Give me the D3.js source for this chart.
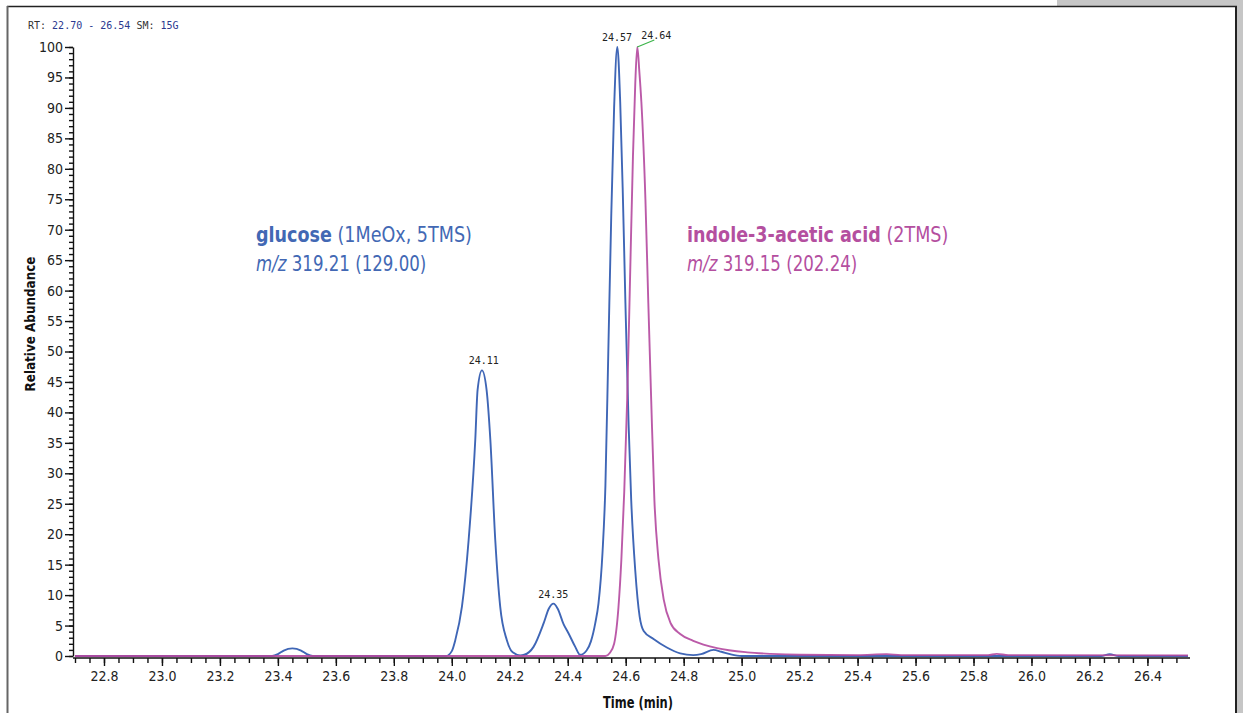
<!DOCTYPE html>
<html>
<head>
<meta charset="utf-8">
<script src="https://cdn.jsdelivr.net/npm/d3@7"></script>
<style>
  body { margin: 0; background: #fff; }
  svg { display: block; }
  .narrow { font-family: "Liberation Sans Narrow", "Arial Narrow", "DejaVu Sans Condensed", "Roboto Condensed", sans-serif; }
  .mono { font-family: "DejaVu Sans Mono", "Liberation Mono", monospace; }
</style>
</head>
<body>
<svg id="chart" width="1243" height="713"></svg>
<script>
// retention time range (min) and y range (%)
const rtRange = [22.70, 26.54];
const yRange = [0, 100];

// glucose (1MeOx, 5TMS) trace, [time, relative abundance]
const glucose = [
  [22.70, 0], [23.38, 0], [23.40, 0.3], [23.42, 0.9], [23.45, 1.25], [23.48, 0.9], [23.50, 0.3], [23.52, 0],
  [23.98, 0], [24.00, 0.8], [24.012, 2.6], [24.035, 8.1], [24.058, 19], [24.081, 35.5], [24.089, 43.7],
  [24.104, 46.9], [24.12, 43.7], [24.133, 35.5], [24.15, 19], [24.167, 8.1], [24.19, 2.6], [24.21, 0.6],
  [24.236, 0.1], [24.25, 0.2], [24.282, 1.5], [24.317, 5.4], [24.335, 7.8], [24.351, 8.6], [24.365, 7.8],
  [24.386, 5.2], [24.403, 3.7], [24.426, 1.5], [24.443, 0.2], [24.465, 0.9], [24.48, 2.4], [24.495, 5.4],
  [24.506, 8.6], [24.52, 17], [24.53, 28], [24.54, 50], [24.55, 72], [24.56, 90], [24.571, 100],
  [24.581, 91], [24.59, 76], [24.599, 58], [24.61, 38], [24.619, 25.6], [24.633, 14], [24.648, 6.5],
  [24.662, 4.1], [24.696, 2.8], [24.742, 1.4], [24.788, 0.44], [24.833, 0.15], [24.86, 0.3], [24.903, 1.0],
  [24.93, 0.7], [24.96, 0.3], [25.0, 0], [26.24, 0], [26.27, 0.3], [26.30, 0], [26.54, 0]
];

// indole-3-acetic acid (2TMS) trace
const iaa = [
  [22.70, 0], [24.53, 0], [24.545, 0.5], [24.56, 2], [24.575, 8], [24.585, 15.8], [24.595, 27],
  [24.605, 42], [24.615, 62], [24.625, 82], [24.633, 94], [24.64, 100], [24.647, 96], [24.654, 91],
  [24.668, 75], [24.678, 58], [24.688, 42], [24.699, 25.6], [24.713, 15.9], [24.731, 9.3], [24.754, 5.5],
  [24.788, 3.6], [24.833, 2.5], [24.915, 1.3], [25.02, 0.6], [25.1, 0.35], [25.2, 0.2], [25.4, 0.15],
  [25.5, 0.3], [25.55, 0.15], [25.85, 0.15], [25.88, 0.35], [25.92, 0.15], [26.54, 0.1]
];

// labelled peaks
const peaks = [
  { t: 24.11, v: 46.9, label: "24.11" },
  { t: 24.35, v: 8.6, label: "24.35" },
  { t: 24.57, v: 100, label: "24.57" },
  { t: 24.64, v: 100, label: "24.64", leader: true }
];

// ticks
const xMajor = d3.range(22.8, 26.41, 0.2).map(d => +d.toFixed(2));
const xMinor = d3.range(22.70, 26.541, 0.05).map(d => +d.toFixed(2));
const yMajor = d3.range(0, 101, 5);
const yMinor = d3.range(0, 101, 1);

const blue = "#3f66b6", magenta = "#b4489f";

const svg = d3.select("#chart");

// page frame
svg.append("rect").attr("x", 1057).attr("y", 0).attr("width", 186).attr("height", 6).attr("fill", "#c6c6c6");
svg.append("rect").attr("x", 1237).attr("y", 0).attr("width", 6).attr("height", 713).attr("fill", "#c6c6c6");
svg.append("line").attr("x1", 7).attr("x2", 1237).attr("y1", 6.5).attr("y2", 6.5)
  .attr("stroke", "#222").attr("stroke-width", 1.5);
svg.append("line").attr("x1", 1236).attr("x2", 1236).attr("y1", 6).attr("y2", 713)
  .attr("stroke", "#222").attr("stroke-width", 2);
svg.append("line").attr("x1", 7.5).attr("x2", 7.5).attr("y1", 6).attr("y2", 713)
  .attr("stroke", "#666").attr("stroke-width", 2);

const x = d3.scaleLinear().domain(rtRange).range([75, 1188]);
const y = d3.scaleLinear().domain(yRange).range([656, 47]);

// header
const hdr = svg.append("text").attr("class", "mono").attr("x", 28).attr("y", 29)
  .style("font-size", "10px");
hdr.append("tspan").attr("fill", "#333").text("RT: ");
hdr.append("tspan").attr("fill", "#2b3990").text(rtRange[0].toFixed(2) + " - " + rtRange[1].toFixed(2));
hdr.append("tspan").attr("fill", "#333").text("  SM: ");
hdr.append("tspan").attr("fill", "#2b3990").text("15G");

// y axis
const yAxisG = svg.append("g").attr("transform", "translate(73,0)");
yAxisG.append("g").call(d3.axisLeft(y).tickValues(yMinor).tickSize(4).tickFormat(""))
  .call(g => g.select(".domain").remove());
yAxisG.append("g").attr("class", "narrow")
  .call(d3.axisLeft(y).tickValues(yMajor).tickSize(8).tickPadding(2).tickSizeOuter(0))
  .call(g => g.selectAll("text").style("font-size", "14px").attr("fill", "#222"));
yAxisG.selectAll("line, path").attr("stroke", "#111").attr("stroke-width", 1.4);

// x axis
const xAxisG = svg.append("g").attr("transform", "translate(0,658)");
xAxisG.append("g").call(d3.axisBottom(x).tickValues(xMinor).tickSize(5).tickFormat("").tickSizeOuter(0))
  .call(g => g.select(".domain").attr("d", "M73,0H1190"));
xAxisG.append("g").attr("class", "narrow")
  .call(d3.axisBottom(x).tickValues(xMajor).tickSize(8).tickPadding(5).tickFormat(d3.format(".1f")))
  .call(g => g.select(".domain").remove())
  .call(g => g.selectAll("text").style("font-size", "14px").attr("fill", "#222"));
xAxisG.selectAll("line, path").attr("stroke", "#111").attr("stroke-width", 1.4);

// axis titles
svg.append("text").attr("class", "narrow")
  .attr("transform", "translate(35,324) rotate(-90) scale(0.92,1)")
  .attr("text-anchor", "middle").style("font-size", "14.5px").style("font-weight", "bold")
  .attr("fill", "#111").text("Relative Abundance");
svg.append("text").attr("class", "narrow")
  .attr("transform", "translate(638,708) scale(0.85,1)")
  .attr("text-anchor", "middle").style("font-size", "15px").style("font-weight", "bold")
  .attr("fill", "#111").text("Time (min)");

// traces
const line = d3.line().x(d => x(d[0])).y(d => y(d[1])).curve(d3.curveMonotoneX);
svg.append("path").datum(glucose).attr("d", line)
  .attr("fill", "none").attr("stroke", blue).attr("stroke-width", 1.9);
svg.append("path").datum(iaa).attr("d", line)
  .attr("fill", "none").attr("stroke", magenta).attr("stroke-width", 1.9).attr("stroke-opacity", 0.9);

// peak labels
peaks.forEach(p => {
  const px = x(p.t), py = y(p.v);
  if (p.leader) {
    svg.append("line").attr("x1", px).attr("y1", py).attr("x2", px + 17).attr("y2", py - 7)
      .attr("stroke", "#3cb44a").attr("stroke-width", 1.2);
    svg.append("text").attr("class", "mono").attr("x", px + 19).attr("y", py - 8)
      .attr("text-anchor", "middle").style("font-size", "10px").attr("fill", "#222").text(p.label);
  } else {
    svg.append("text").attr("class", "mono").attr("x", px).attr("y", py - 6)
      .attr("text-anchor", "middle").style("font-size", "10px").attr("fill", "#222").text(p.label);
  }
});

// compound annotations
function note(x0, y0, color, name, deriv, mz) {
  const t1 = svg.append("text").attr("class", "narrow")
    .attr("transform", `translate(${x0},${y0}) scale(0.93,1)`)
    .style("font-size", "21px").attr("fill", color);
  t1.append("tspan").style("font-weight", "bold").text(name);
  t1.append("tspan").text(" " + deriv);
  const t2 = svg.append("text").attr("class", "narrow")
    .attr("transform", `translate(${x0},${y0 + 29}) scale(0.88,1)`)
    .style("font-size", "21px").attr("fill", color);
  t2.append("tspan").style("font-style", "italic").text("m/z");
  t2.append("tspan").text(" " + mz);
}
note(256, 242, "#4268b4", "glucose", "(1MeOx, 5TMS)", "319.21 (129.00)");
note(687, 242, "#b44f9f", "indole-3-acetic acid", "(2TMS)", "319.15 (202.24)");
</script>
</body>
</html>
